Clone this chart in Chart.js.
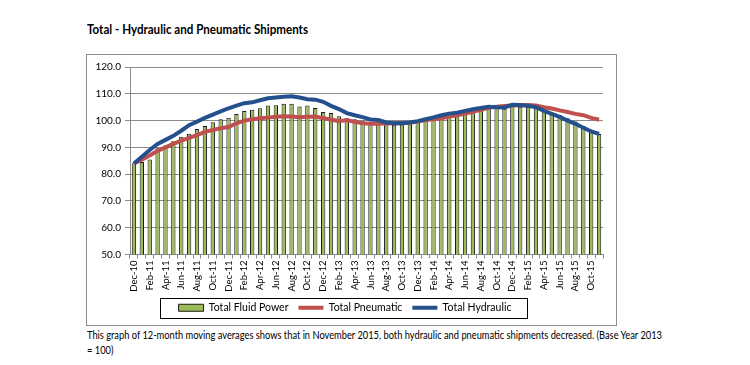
<!DOCTYPE html>
<html>
<head>
<meta charset="utf-8">
<script src="https://cdn.jsdelivr.net/npm/chart.js@4.4.1/dist/chart.umd.min.js"></script>
<style>
  body { margin: 0; width: 750px; height: 365px; position: relative; overflow: hidden; background: #fff; font-family: Lato, sans-serif; color: #000; }
  #title { position: absolute; left: 87px; top: 22px; font-size: 12.5px; font-weight: bold; white-space: nowrap; transform-origin: 0 0; }
  #box { position: absolute; left: 86px; top: 54px; width: 529px; height: 270px; border: 1px solid #8c8c8c; }
  .cap { position: absolute; left: 87px; font-size: 10.5px; white-space: nowrap; transform-origin: 0 0; }
</style>
</head>
<body>
<div id="title">Total - Hydraulic and Pneumatic Shipments</div>
<div id="box"><canvas id="chart" width="529" height="270"></canvas></div>
<div class="cap" id="cap1" style="top:329px">This graph of 12-month moving averages shows that in November 2015, both hydraulic and pneumatic shipments decreased. (Base Year 2013</div>
<div class="cap" id="cap2" style="top:344px">= 100)</div>
<script>
// months Dec-10 .. Nov-15, one label shown every other month
const months = [
  'Dec-10','Jan-11','Feb-11','Mar-11','Apr-11','May-11','Jun-11','Jul-11','Aug-11','Sep-11','Oct-11','Nov-11',
  'Dec-11','Jan-12','Feb-12','Mar-12','Apr-12','May-12','Jun-12','Jul-12','Aug-12','Sep-12','Oct-12','Nov-12',
  'Dec-12','Jan-13','Feb-13','Mar-13','Apr-13','May-13','Jun-13','Jul-13','Aug-13','Sep-13','Oct-13','Nov-13',
  'Dec-13','Jan-14','Feb-14','Mar-14','Apr-14','May-14','Jun-14','Jul-14','Aug-14','Sep-14','Oct-14','Nov-14',
  'Dec-14','Jan-15','Feb-15','Mar-15','Apr-15','May-15','Jun-15','Jul-15','Aug-15','Sep-15','Oct-15','Nov-15'
];

const fluidPower = [
  84.1, 84.5, 85.5, 89.7, 90.7, 92.3, 94.0, 95.1, 96.9, 98.0, 99.4, 100.5,
  101.1, 102.5, 103.6, 104.0, 104.6, 105.6, 105.7, 106.3, 106.3, 105.3, 105.6, 104.7,
  103.2, 102.8, 101.6, 100.9, 100.5, 99.9, 99.4, 99.1, 98.6, 98.4, 98.5, 98.9,
  99.7, 100.3, 100.7, 101.2, 101.6, 102.1, 102.9, 103.5, 104.1, 104.5, 104.8, 104.4,
  105.4, 105.2, 105.1, 104.8, 103.9, 102.9, 102.1, 100.9, 99.7, 98.0, 96.5, 95.0
];

const pneumatic = [
  84.0, 85.4, 87.0, 88.7, 90.0, 91.3, 92.5, 93.5, 94.6, 95.8, 96.5, 97.1,
  97.6, 99.0, 100.0, 100.5, 100.9, 101.1, 101.4, 101.6, 101.5, 101.2, 101.4, 101.5,
  100.9, 100.4, 99.8, 100.2, 99.5, 99.0, 98.8, 98.8, 98.9, 99.0, 99.0, 99.2,
  99.6, 100.2, 100.5, 100.9, 101.5, 102.0, 102.6, 103.3, 104.0, 104.8, 105.2, 105.4,
  105.6, 105.7, 105.8, 105.6, 105.0, 104.5, 103.8, 103.2, 102.5, 102.0, 101.0, 100.3
];

const hydraulic = [
  84.0, 86.5, 89.0, 91.3, 92.8, 94.3, 96.2, 98.3, 99.6, 101.0, 102.2, 103.4,
  104.6, 105.6, 106.5, 106.8, 107.6, 108.3, 108.6, 108.9, 109.1, 108.6, 108.0, 107.8,
  107.0, 105.5, 104.3, 102.8, 102.0, 101.3, 100.4, 100.2, 99.3, 99.0, 99.0, 99.3,
  99.8, 100.5, 101.2, 102.0, 102.6, 102.9, 103.6, 104.2, 104.7, 105.2, 105.0, 104.9,
  105.9, 105.8, 105.5, 105.0, 103.6, 102.5, 101.4, 100.0, 98.8, 97.3, 96.0, 95.0
];

const gridGray = '#8c8c8c';

// squeeze html text to the widths measured on the reference
const title = document.getElementById('title');
title.style.transform = 'scaleX(' + (221 / title.getBoundingClientRect().width) + ')';
const cap1 = document.getElementById('cap1');
const capScale = 575 / cap1.getBoundingClientRect().width;
cap1.style.transform = 'scaleX(' + capScale + ')';
document.getElementById('cap2').style.transform = 'scaleX(' + capScale + ')';

// frame drawn round the legend items
const legendFrame = {
  id: 'legendFrame',
  afterDraw(chart) {
    const boxes = chart.legend.legendHitBoxes;
    if (!boxes || !boxes.length) return;
    const left = Math.min(...boxes.map(b => b.left)) - 19;
    const right = Math.max(...boxes.map(b => b.left + b.width)) + 15;
    const mid = boxes[0].top + boxes[0].height / 2;
    const ctx = chart.ctx;
    ctx.save();
    ctx.strokeStyle = '#000';
    ctx.lineWidth = 1;
    ctx.strokeRect(Math.round(left) + 0.5, Math.round(mid - 10) + 0.5, Math.round(right - left), 20);
    ctx.restore();
  }
};

new Chart(document.getElementById('chart'), {
  type: 'bar',
  data: {
    labels: months,
    datasets: [
      {
        label: 'Total Fluid Power',
        data: fluidPower,
        backgroundColor: '#9bbb59',
        borderColor: '#1a1a1a',
        borderWidth: 1,
        barPercentage: 0.55,
        categoryPercentage: 1,
        order: 2
      },
      {
        type: 'line',
        label: 'Total Pneumatic',
        data: pneumatic,
        borderColor: '#c0504d',
        backgroundColor: '#c0504d',
        borderWidth: 4,
        pointRadius: 0,
        tension: 0,
        order: 1
      },
      {
        type: 'line',
        label: 'Total Hydraulic',
        data: hydraulic,
        borderColor: '#24508c',
        backgroundColor: '#24508c',
        borderWidth: 4,
        pointRadius: 0,
        tension: 0,
        order: 0
      }
    ]
  },
  options: {
    responsive: false,
    animation: false,
    layout: { padding: { top: 12, right: 13, bottom: 2, left: 0 } },
    scales: {
      x: {
        grid: { drawOnChartArea: false, tickLength: 4, color: gridGray },
        border: { color: gridGray },
        ticks: {
          autoSkip: false,
          minRotation: 90,
          maxRotation: 90,
          padding: 2,
          color: '#000',
          font: { family: 'Lato', size: 9.5 },
          callback: (v, i) => (i % 2 === 0 ? months[i] : '')
        },
        // tall enough that the rotated labels are not clipped
        afterFit: s => { s.height = 38; }
      },
      y: {
        min: 50,
        max: 120,
        grid: { color: gridGray, tickLength: 5 },
        border: { color: gridGray },
        ticks: {
          stepSize: 10,
          padding: 4,
          color: '#000',
          font: { family: 'Lato', size: 10 },
          callback: v => v.toFixed(1)
        },
        afterFit: s => { s.width = 43; }
      }
    },
    plugins: {
      tooltip: { enabled: false },
      legend: {
        position: 'bottom',
        labels: {
          usePointStyle: true,
          pointStyleWidth: 25,
          boxHeight: 7,
          padding: 10,
          color: '#000',
          font: { family: 'Lato', size: 10.5 },
          sort: (a, b) => a.datasetIndex - b.datasetIndex,
          generateLabels(chart) {
            const items = Chart.defaults.plugins.legend.labels.generateLabels(chart);
            items.forEach(it => {
              if (it.datasetIndex === 0) {
                it.pointStyle = 'rect';
                it.lineWidth = 1;
              } else {
                it.pointStyle = 'line';
                it.lineWidth = 4;
              }
            });
            return items;
          }
        }
      }
    }
  },
  plugins: [legendFrame]
});
</script>
</body>
</html>
